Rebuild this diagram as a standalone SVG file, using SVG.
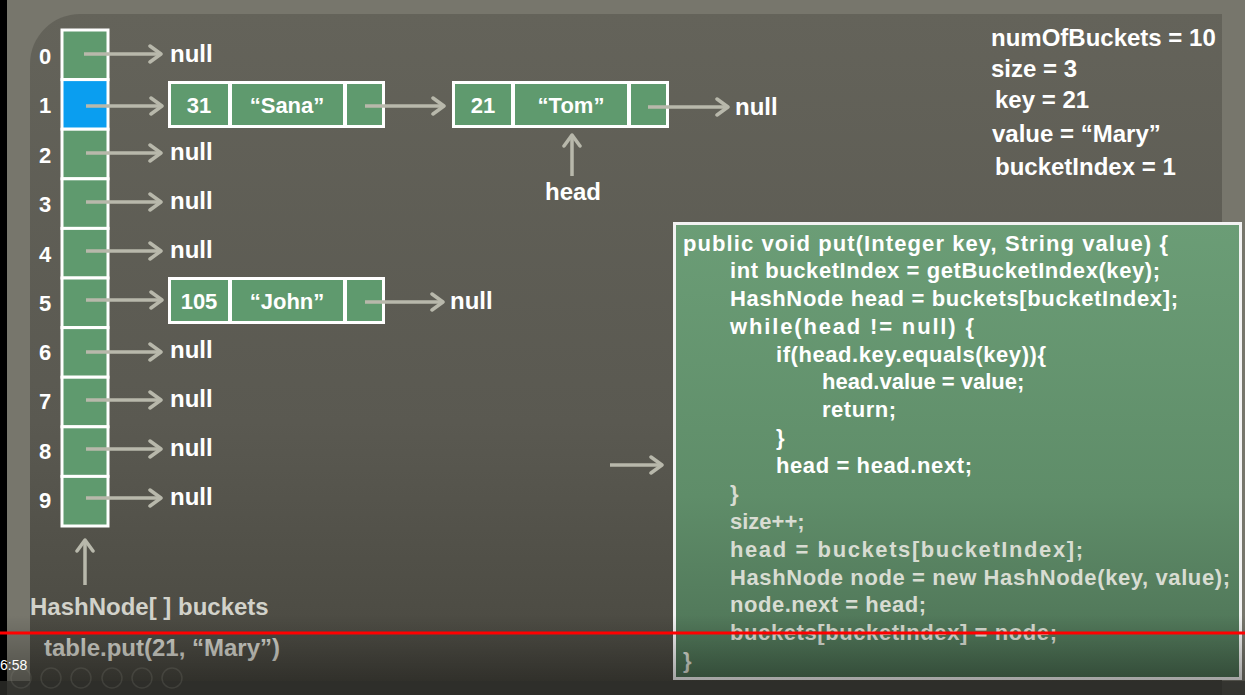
<svg xmlns="http://www.w3.org/2000/svg" width="1245" height="695" viewBox="0 0 1245 695">
<defs>
<linearGradient id="panelG" x1="0" y1="0" x2="0" y2="1">
<stop offset="0" stop-color="#64635a"/>
<stop offset="0.6" stop-color="#5a5951"/>
<stop offset="1" stop-color="#48473f"/>
</linearGradient>
<linearGradient id="codeG" x1="0" y1="0" x2="0" y2="1">
<stop offset="0" stop-color="#6b9d76"/>
<stop offset="0.6" stop-color="#5f8d69"/>
<stop offset="1" stop-color="#4c7054"/>
</linearGradient>
<linearGradient id="shade" x1="0" y1="0" x2="0" y2="1">
<stop offset="0" stop-color="#000" stop-opacity="0"/>
<stop offset="1" stop-color="#000" stop-opacity="0.4"/>
</linearGradient>
<marker id="ah" markerUnits="userSpaceOnUse" markerWidth="20" markerHeight="20" viewBox="-14 -10 18 20" refX="0" refY="0" orient="auto">
<polyline points="-11,-8 0,0 -11,8" fill="none" stroke="#b8b8ab" stroke-width="3.5" stroke-linecap="round" stroke-linejoin="round"/>
</marker>
</defs>
<style>
text{font-family:"Liberation Sans",Arial,sans-serif;font-weight:bold;}
.idx{fill:#fff;font-size:22px;text-anchor:middle;}
.nul{fill:#fff;font-size:24px;}
.cell{fill:#5f9a6e;stroke:#fff;stroke-width:3;}
.blue{fill:#0a9ef0;stroke:#fff;stroke-width:3;}
.nt{fill:#fff;font-size:22px;text-anchor:middle;}
.arr{stroke:#b8b8ab;stroke-width:3.5;fill:none;marker-end:url(#ah);}
.var{fill:#fff;font-size:24px;}
.code{fill:#fff;font-size:22px;}
.dim{fill:#d8dcd2;}
.lbl{fill:#d2d2ca;font-size:24px;}
</style>
<rect x="0" y="0" width="1245" height="695" fill="#77766c"/>
<rect x="0" y="0" width="7" height="695" fill="#000"/>
<path d="M30,64 A50,50 0 0 1 80,14 L1222,14 L1222,695 L30,695 Z" fill="url(#panelG)"/>

<g id="bucket-array">
<rect class="cell" x="62" y="30" width="46" height="49.6"/>
<rect class="blue" x="62" y="79.6" width="46" height="49.6"/>
<rect class="cell" x="62" y="129.2" width="46" height="49.6"/>
<rect class="cell" x="62" y="178.8" width="46" height="49.6"/>
<rect class="cell" x="62" y="228.4" width="46" height="49.6"/>
<rect class="cell" x="62" y="278" width="46" height="49.6"/>
<rect class="cell" x="62" y="327.6" width="46" height="49.6"/>
<rect class="cell" x="62" y="377.2" width="46" height="49.6"/>
<rect class="cell" x="62" y="426.8" width="46" height="49.6"/>
<rect class="cell" x="62" y="476.4" width="46" height="49.6"/>
<text class="idx" x="45" y="64">0</text>
<text class="idx" x="45" y="113">1</text>
<text class="idx" x="45" y="163">2</text>
<text class="idx" x="45" y="212">3</text>
<text class="idx" x="45" y="262">4</text>
<text class="idx" x="45" y="311">5</text>
<text class="idx" x="45" y="360">6</text>
<text class="idx" x="45" y="409">7</text>
<text class="idx" x="45" y="459">8</text>
<text class="idx" x="45" y="508">9</text>
</g>

<g id="null-labels">
<text class="nul" x="170" y="62">null</text>
<text class="nul" x="170" y="160">null</text>
<text class="nul" x="170" y="209">null</text>
<text class="nul" x="170" y="258">null</text>
<text class="nul" x="170" y="358">null</text>
<text class="nul" x="170" y="407">null</text>
<text class="nul" x="170" y="456">null</text>
<text class="nul" x="170" y="505">null</text>
<text class="nul" x="735" y="115">null</text>
<text class="nul" x="450" y="309">null</text>
</g>

<g id="node-sana">
<rect x="168" y="81" width="217" height="47" fill="#fff"/>
<rect x="171" y="84" width="57" height="41" fill="#5f9a6e"/>
<rect x="232" y="84" width="111" height="41" fill="#5f9a6e"/>
<rect x="347" y="84" width="35" height="41" fill="#5f9a6e"/>
<text class="nt" x="199" y="113">31</text>
<text class="nt" x="287" y="113">“Sana”</text>
</g>

<g id="node-tom">
<rect x="452" y="81" width="217" height="47" fill="#fff"/>
<rect x="455" y="84" width="56" height="41" fill="#5f9a6e"/>
<rect x="515" y="84" width="112" height="41" fill="#5f9a6e"/>
<rect x="631" y="84" width="35" height="41" fill="#5f9a6e"/>
<text class="nt" x="483" y="113">21</text>
<text class="nt" x="571" y="113">“Tom”</text>
</g>

<g id="node-john">
<rect x="168" y="277" width="217" height="47" fill="#fff"/>
<rect x="171" y="280" width="57" height="41" fill="#5f9a6e"/>
<rect x="232" y="280" width="111" height="41" fill="#5f9a6e"/>
<rect x="347" y="280" width="35" height="41" fill="#5f9a6e"/>
<text class="nt" x="199" y="309">105</text>
<text class="nt" x="287" y="309">“John”</text>
</g>

<g id="connectors">
<line class="arr" x1="84" y1="54" x2="161" y2="54"/>
<line class="arr" x1="86" y1="106" x2="162" y2="106"/>
<line class="arr" x1="86" y1="153" x2="161" y2="153"/>
<line class="arr" x1="86" y1="202" x2="161" y2="202"/>
<line class="arr" x1="86" y1="251" x2="161" y2="251"/>
<line class="arr" x1="86" y1="300" x2="162" y2="300"/>
<line class="arr" x1="86" y1="352" x2="161" y2="352"/>
<line class="arr" x1="86" y1="400" x2="161" y2="400"/>
<line class="arr" x1="86" y1="449" x2="161" y2="449"/>
<line class="arr" x1="86" y1="498" x2="161" y2="498"/>
<line class="arr" x1="365" y1="106" x2="444" y2="106"/>
<line class="arr" x1="648" y1="107" x2="728" y2="107"/>
<line class="arr" x1="365" y1="302" x2="443" y2="302"/>
<line class="arr" x1="572" y1="176" x2="572" y2="135"/>
<line class="arr" x1="85" y1="585" x2="85" y2="540"/>
<line class="arr" x1="610" y1="465" x2="662" y2="465"/>
</g>

<g id="head-label">
<text x="573" y="200" fill="#fff" font-size="24" text-anchor="middle">head</text>
</g>

<g id="variables">
<text class="var" x="991" y="46">numOfBuckets = 10</text>
<text class="var" x="991" y="77">size = 3</text>
<text class="var" x="995" y="108">key = 21</text>
<text class="var" x="992" y="142">value = “Mary”</text>
<text class="var" x="995" y="175">bucketIndex = 1</text>
</g>

<g id="code-box">
<rect x="674.5" y="223.5" width="566" height="455" fill="url(#codeG)" stroke="#f2f2f2" stroke-width="3"/>
<text class="code" x="683" y="251" textLength="485" lengthAdjust="spacing">public void put(Integer key, String value) {</text>
<text class="code" x="730" y="278" textLength="430" lengthAdjust="spacing">int bucketIndex = getBucketIndex(key);</text>
<text class="code" x="730" y="306" textLength="448" lengthAdjust="spacing">HashNode head = buckets[bucketIndex];</text>
<text class="code" x="730" y="334" textLength="244" lengthAdjust="spacing">while(head != null) {</text>
<text class="code" x="776" y="362" textLength="270" lengthAdjust="spacing">if(head.key.equals(key)){</text>
<text class="code" x="822" y="389">head.value = value;</text>
<text class="code" x="822" y="417" textLength="74" lengthAdjust="spacing">return;</text>
<text class="code" x="776" y="445">}</text>
<text class="code" x="776" y="473" textLength="196" lengthAdjust="spacing">head = head.next;</text>
<text class="code dim" x="730" y="501">}</text>
<text class="code dim" x="730" y="529">size++;</text>
<text class="code dim" x="730" y="557" textLength="353" lengthAdjust="spacing">head = buckets[bucketIndex];</text>
<text class="code dim" x="730" y="585" textLength="500" lengthAdjust="spacing">HashNode node = new HashNode(key, value);</text>
<text class="code dim" x="730" y="612" textLength="196" lengthAdjust="spacing">node.next = head;</text>
<text class="code dim" x="730" y="640" textLength="327" lengthAdjust="spacing">buckets[bucketIndex] = node;</text>
<text class="code dim" x="683" y="668">}</text>
</g>

<g id="captions">
<text class="lbl" x="30" y="615">HashNode[ ] buckets</text>
<text class="lbl" x="44" y="656">table.put(21, “Mary”)</text>
</g>

<rect x="0" y="615" width="1245" height="80" fill="url(#shade)"/>
<rect x="0" y="681" width="1245" height="14" fill="#2e2e2b" opacity="0.8"/>

<g id="player" fill="none" stroke="#8a8a80" stroke-width="1.5" opacity="0.2">
<circle cx="21" cy="678" r="10"/>
<circle cx="51" cy="678" r="10"/>
<circle cx="81" cy="678" r="10"/>
<circle cx="112" cy="678" r="10"/>
<circle cx="142" cy="678" r="10"/>
<circle cx="172" cy="678" r="10"/>
</g>
<rect x="0" y="631.5" width="1245" height="3" fill="#f00"/>
<text x="0" y="670" fill="#fff" font-size="14" style="font-weight:normal">6:58</text>
</svg>
